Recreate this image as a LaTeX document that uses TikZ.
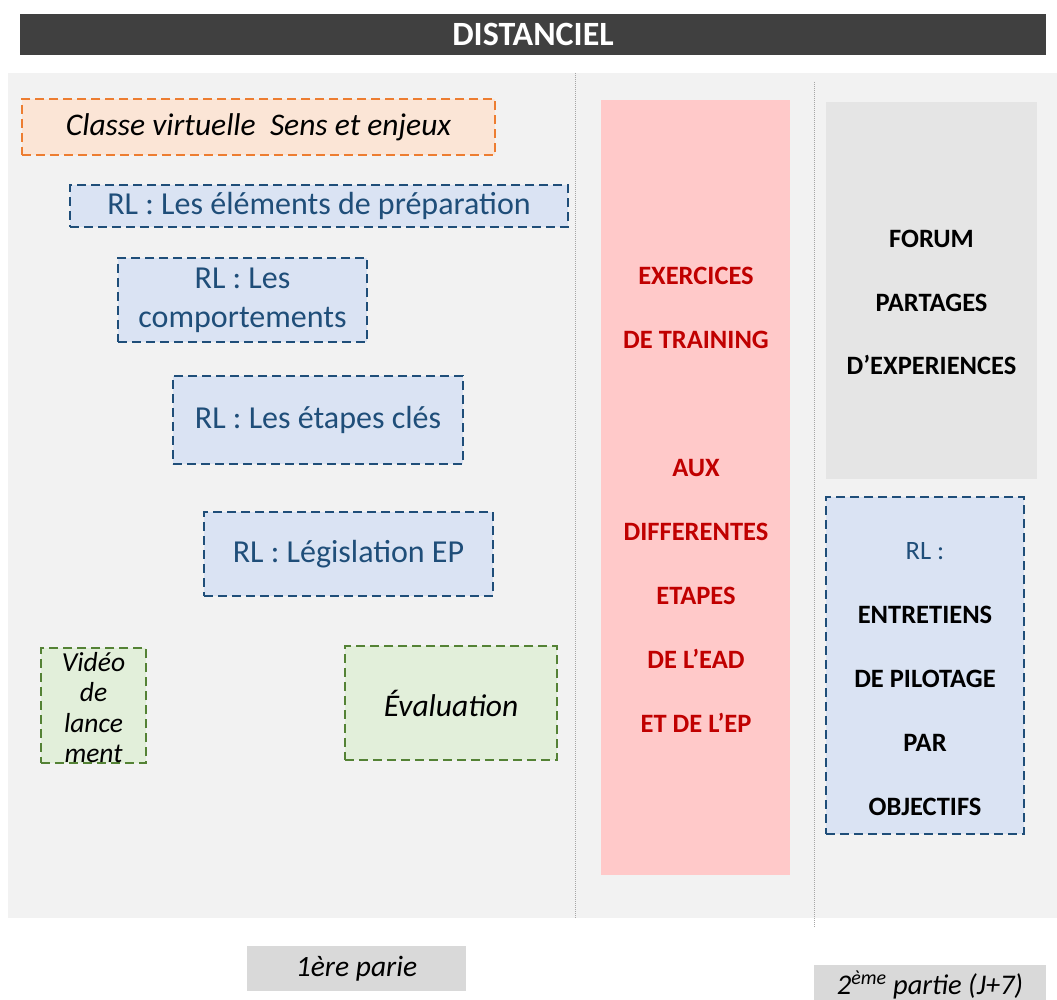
\documentclass[tikz,border=0pt]{standalone}
\usepackage{fontspec}
\setmainfont{Carlito}
\definecolor{barC}{HTML}{404040}
\definecolor{panelC}{HTML}{F2F2F2}
\definecolor{orF}{HTML}{FBE5D6}
\definecolor{orD}{HTML}{ED7D31}
\definecolor{blF}{HTML}{DAE3F3}
\definecolor{blD}{HTML}{1F4E79}
\definecolor{grF}{HTML}{E2EFDA}
\definecolor{grD}{HTML}{548235}
\definecolor{pkF}{HTML}{FFC9C9}
\definecolor{pkT}{HTML}{C00000}
\definecolor{fmF}{HTML}{E5E5E5}
\definecolor{lbF}{HTML}{D9D9D9}
\definecolor{dotC}{HTML}{A6A6A6}
\tikzset{
  dbox/.style={draw, line width=2.5pt, dash pattern=on 9pt off 5pt, inner sep=0pt, align=center},
  orbox/.style={dbox, draw=orD, fill=orF},
  blbox/.style={dbox, draw=blD, fill=blF, text=blD, font=\fontsize{32}{39}\selectfont},
  grbox/.style={dbox, draw=grD, fill=grF},
  plain/.style={inner sep=0pt, align=center},
  sep/.style={dotC, line width=1pt, dash pattern=on 1pt off 1pt},
}
\begin{document}
\begin{tikzpicture}[x=1pt,y=-1pt]
\useasboundingbox (0,0) rectangle (1057,1000);
\clip (0,0) rectangle (1057,1000);
% title bar
\node[plain, fill=barC, minimum width=1026pt, minimum height=41pt, text=white,
  font=\fontsize{34}{36}\selectfont\bfseries] (title) at (533,34.5) {DISTANCIEL};
% panel
\node[plain, fill=panelC, minimum width=1049pt, minimum height=845pt] (panel) at (532.5,495.5) {};
% separators
\coordinate (s1a) at (575,73); \coordinate (s1b) at (575,918);
\coordinate (s2a) at (814,82); \coordinate (s2b) at (814,927);
\draw[sep] (s1a) -- (s1b);
\draw[sep] (s2a) -- (s2b);
% left column
\node[orbox, minimum width=473pt, minimum height=56pt, font=\fontsize{31.5}{34}\selectfont\itshape] (classe) at (258.5,127) {Classe virtuelle\ \ Sens et enjeux};
\node[blbox, minimum width=498pt, minimum height=42pt] (prep) at (319,206) {RL : Les éléments de préparation};
\node[blbox, minimum width=249pt, minimum height=84pt] (comp) at (242.5,300) {RL : Les\\comportements};
\node[blbox, minimum width=290pt, minimum height=88pt] (etap) at (318,420) {RL : Les étapes clés};
\node[blbox, minimum width=289pt, minimum height=84pt] (legis) at (348.5,554) {RL : Législation EP};
\node[grbox, minimum width=105pt, minimum height=115pt] (video) at (93.5,705.5) {};
\node[plain, font=\fontsize{27.5}{30.5}\selectfont\itshape] (videot) at (93.5,707.5) {Vidéo\\de\\lance\\ment};
\node[grbox, minimum width=212pt, minimum height=114pt, font=\fontsize{31.5}{34}\selectfont\itshape] (eval) at (451,703) {Évaluation};
% middle column
\node[plain, fill=pkF, minimum width=189pt, minimum height=775pt] (pink) at (695.5,487.5) {};
\node[plain, text=pkT, font=\fontsize{26.5}{64}\selectfont\bfseries] (pinkt) at (696,500)
  {EXERCICES\\DE TRAINING\\[64pt]AUX\\DIFFERENTES\\ETAPES\\DE L’EAD\\ET DE L’EP};
% right column
\node[plain, fill=fmF, minimum width=211pt, minimum height=377pt] (forum) at (931.5,290.5) {};
\node[plain, font=\fontsize{26.5}{63.5}\selectfont\bfseries] (forumt) at (931.5,302.5)
  {FORUM\\PARTAGES\\D’EXPERIENCES};
\node[dbox, draw=blD, fill=blF, minimum width=198pt, minimum height=337pt] (rlr) at (925,665.5) {};
\node[plain, font=\fontsize{26.5}{64}\selectfont\bfseries] (rlrt) at (925,679.5)
  {\textcolor{blD}{\mdseries RL :}\\ENTRETIENS\\DE PILOTAGE\\PAR\\OBJECTIFS};
% bottom labels
\node[plain, fill=lbF, minimum width=219pt, minimum height=45pt, font=\fontsize{29.5}{32}\selectfont\itshape] (part1) at (356.5,968.5) {1ère parie};
\node[plain, fill=lbF, minimum width=232pt, minimum height=50pt, anchor=north] (part2) at (930,965) {};
\node[plain, font=\fontsize{28.5}{30}\selectfont\itshape, anchor=base] (part2t) at (930,994) {2\textsuperscript{ème} partie (J+7)};
\end{tikzpicture}
\end{document}
